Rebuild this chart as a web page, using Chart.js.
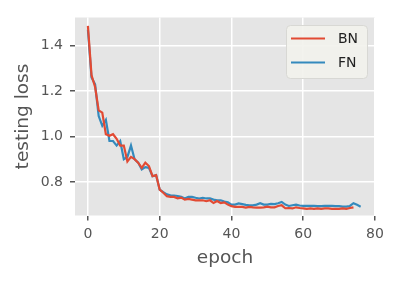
<!DOCTYPE html>
<html lang="en">
<head>
    <meta charset="UTF-8">
    <title>Testing loss: BN vs FN</title>
    <script src="https://cdn.jsdelivr.net/npm/chart.js"></script>
    <style>
        html, body { margin: 0; padding: 0; background: #ffffff; }
        canvas { display: block; }
    </style>
</head>
<body>
    <canvas id="lossChart" width="398" height="281"></canvas>

    <script>
        // testing loss per epoch
        const bnLoss = [
            1.487, 1.27, 1.218, 1.115, 1.105, 1.01, 1.003, 1.01, 0.99, 0.96,
            0.96, 0.89, 0.91, 0.90, 0.885, 0.862, 0.885, 0.87, 0.825, 0.83,
            0.766, 0.752, 0.737, 0.734, 0.734, 0.728, 0.731, 0.722, 0.725, 0.722,
            0.719, 0.719, 0.719, 0.715, 0.719, 0.707, 0.716, 0.707, 0.71, 0.70,
            0.693, 0.69, 0.69, 0.69, 0.687, 0.69, 0.688, 0.687, 0.687, 0.688,
            0.691, 0.688, 0.688, 0.694, 0.697, 0.684, 0.685, 0.683, 0.688, 0.685,
            0.683, 0.681, 0.683, 0.681, 0.683, 0.681, 0.683, 0.683, 0.681, 0.681,
            0.681, 0.683, 0.681, 0.685, 0.688
        ];
        const fnLoss = [
            1.47, 1.26, 1.23, 1.09, 1.047, 1.073, 0.98, 0.98, 0.96, 0.98,
            0.90, 0.91, 0.96, 0.90, 0.885, 0.855, 0.865, 0.862, 0.825, 0.83,
            0.766, 0.755, 0.745, 0.741, 0.740, 0.738, 0.734, 0.727, 0.734, 0.734,
            0.73, 0.727, 0.73, 0.727, 0.727, 0.722, 0.719, 0.719, 0.713, 0.71,
            0.70, 0.70, 0.705, 0.702, 0.699, 0.697, 0.697, 0.70, 0.706, 0.70,
            0.70, 0.703, 0.702, 0.706, 0.712, 0.70, 0.694, 0.697, 0.70, 0.696,
            0.694, 0.694, 0.694, 0.694, 0.693, 0.693, 0.694, 0.694, 0.694, 0.693,
            0.693, 0.691, 0.691, 0.694, 0.706, 0.699, 0.691
        ];
        const seriesNames = ['BN', 'FN'];
        const xTicks = [0, 20, 40, 60, 80];
        const yTicks = [0.8, 1.0, 1.2, 1.4];

        // x value of each point is its epoch index
        function toPoints(values) {
            return values.map((v, i) => ({ x: i, y: v }));
        }

        // gray panel behind the plot (ggplot look)
        const panelBackground = {
            id: 'panelBackground',
            beforeDraw(chart) {
                const { ctx, chartArea: a } = chart;
                ctx.save();
                ctx.fillStyle = '#e5e5e5';
                ctx.fillRect(a.left, a.top, a.right - a.left, a.bottom - a.top);
                ctx.restore();
            }
        };

        // legend drawn inside the top right corner of the plot
        const insideLegend = {
            id: 'insideLegend',
            afterDatasetsDraw(chart) {
                const { ctx, chartArea: a } = chart;
                const w = 81, h = 53;
                const x = a.right - 8 - w, y = a.top + 7.5;
                ctx.save();
                ctx.beginPath();
                ctx.roundRect(x + 0.5, y + 0.5, w, h, 4);
                ctx.fillStyle = 'rgba(242, 242, 236, 0.9)';
                ctx.fill();
                ctx.strokeStyle = '#d8d8d4';
                ctx.lineWidth = 1;
                ctx.stroke();
                ctx.font = '14px "DejaVu Sans"';
                ctx.textBaseline = 'middle';
                chart.data.datasets.forEach((ds, i) => {
                    const ly = y + 13.5 + i * 24;
                    ctx.beginPath();
                    ctx.moveTo(x + 5, ly);
                    ctx.lineTo(x + 39, ly);
                    ctx.strokeStyle = ds.borderColor;
                    ctx.lineWidth = 2.2;
                    ctx.stroke();
                    ctx.fillStyle = '#222222';
                    ctx.fillText(ds.label, x + 52, ly + 1);
                });
                ctx.restore();
            }
        };

        const ctx = document.getElementById('lossChart').getContext('2d');
        const chart = new Chart(ctx, {
            type: 'line',
            data: {
                datasets: [{
                    label: seriesNames[0],
                    data: toPoints(bnLoss),
                    borderColor: '#E24A33',
                    borderWidth: 2.2,
                    pointRadius: 0,
                    fill: false
                }, {
                    label: seriesNames[1],
                    data: toPoints(fnLoss),
                    borderColor: '#348ABD',
                    borderWidth: 2.2,
                    pointRadius: 0,
                    fill: false
                }]
            },
            options: {
                responsive: false,
                animation: false,
                layout: { padding: { top: 17.5, right: 23, left: 0, bottom: 0 } },
                plugins: {
                    legend: { display: false },
                    tooltip: { enabled: false }
                },
                scales: {
                    x: {
                        type: 'linear',
                        min: -3.6,
                        max: 80,
                        afterBuildTicks: s => { s.ticks = xTicks.map(v => ({ value: v })); },
                        afterFit: s => { s.height = 65.5; },
                        border: { display: false },
                        grid: { color: '#ffffff', lineWidth: 1.5, tickColor: '#555555', tickLength: 5 },
                        ticks: {
                            color: '#555555',
                            padding: 5,
                            maxRotation: 0,
                            font: { family: 'DejaVu Sans', size: 14 }
                        },
                        title: {
                            display: true,
                            text: 'epoch',
                            color: '#555555',
                            padding: { top: 0, bottom: 12 },
                            font: { family: 'DejaVu Sans', size: 18.5 }
                        }
                    },
                    y: {
                        min: 0.652,
                        max: 1.524,
                        afterBuildTicks: s => { s.ticks = yTicks.map(v => ({ value: v })); },
                        afterFit: s => { s.width = 75; },
                        border: { display: false },
                        grid: { color: '#ffffff', lineWidth: 1.5, tickColor: '#555555', tickLength: 5 },
                        ticks: {
                            color: '#555555',
                            padding: 7,
                            font: { family: 'DejaVu Sans', size: 14 },
                            callback: v => v.toFixed(1)
                        },
                        title: {
                            display: true,
                            text: 'testing loss',
                            color: '#555555',
                            padding: { top: 12, bottom: 0 },
                            font: { family: 'DejaVu Sans', size: 18.5 }
                        }
                    }
                }
            },
            plugins: [panelBackground, insideLegend]
        });
    </script>
</body>
</html>
